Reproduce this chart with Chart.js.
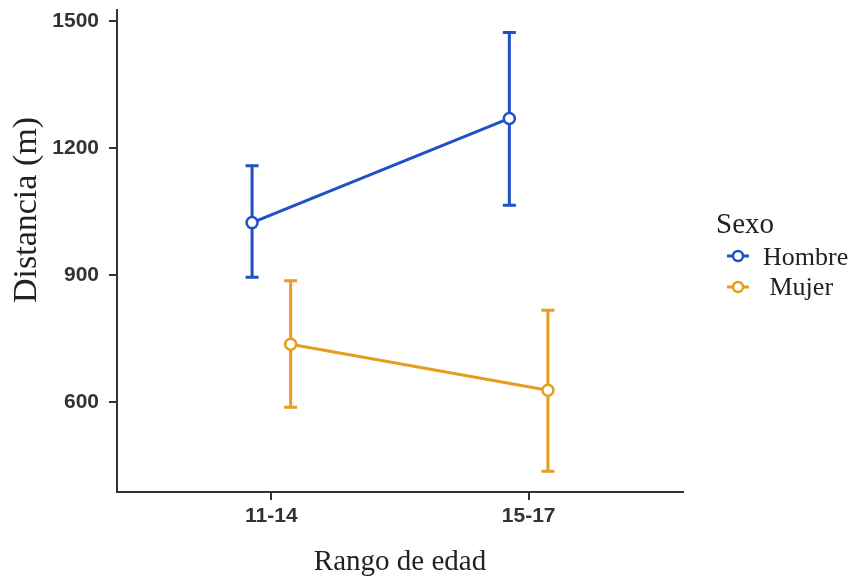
<!DOCTYPE html>
<html><head><meta charset="utf-8">
<script src="https://cdn.jsdelivr.net/npm/chart.js@4.4.1/dist/chart.umd.min.js"></script>
<style>html,body{margin:0;padding:0;background:#fff}#wrap{width:853px;height:582px;position:relative}</style>
</head><body><div id="wrap"><canvas id="c" width="853" height="582"></canvas></div>
<script>
// ---- data ----
const categories = ["11-14", "15-17"];
const seriesNames = ["Hombre", " Mujer"];
const hombreMean = [1024, 1270];
const hombreLow = [895, 1065];
const hombreHigh = [1158, 1473];
const mujerMean = [737, 628];
const mujerLow = [588, 437];
const mujerHigh = [887, 817];
const yTicks = [600, 900, 1200, 1500];
const legendTitle = "Sexo";
const xTitle = "Rango de edad";
const yTitle = "Distancia (m)";

// ---- styling ----
const colors = ["#1f50c6", "#e69c1f"];
const dodge = [-0.075, 0.075];
const axisColor = "#333333";
const serif = "'Liberation Serif', 'DejaVu Serif', serif";
const sans = "'Liberation Sans', Arial, sans-serif";

function buildPoints(mean, low, high, s) {
  return mean.map((v, i) => ({ x: i + 1 + dodge[s], y: v, lo: low[i], hi: high[i] }));
}

const datasets = [
  { label: seriesNames[0], data: buildPoints(hombreMean, hombreLow, hombreHigh, 0) },
  { label: seriesNames[1], data: buildPoints(mujerMean, mujerLow, mujerHigh, 1) }
].map((d, s) => Object.assign(d, {
  borderColor: colors[s],
  backgroundColor: "#ffffff",
  pointBackgroundColor: "#ffffff",
  pointBorderColor: colors[s],
  pointRadius: 5.5,
  pointBorderWidth: 2.5,
  pointHoverRadius: 5.5,
  borderWidth: 3,
  tension: 0,
  fill: false
}));

const errorBars = {
  id: 'errorBars',
  beforeDatasetsDraw(chart) {
    const ctx = chart.ctx;
    const y = chart.scales.y;
    chart.data.datasets.forEach((ds, s) => {
      const meta = chart.getDatasetMeta(s);
      meta.data.forEach((pt, i) => {
        const raw = ds.data[i];
        const yl = y.getPixelForValue(raw.lo);
        const yh = y.getPixelForValue(raw.hi);
        ctx.save();
        ctx.strokeStyle = colors[s];
        ctx.lineWidth = 3;
        ctx.beginPath();
        ctx.moveTo(pt.x, yl); ctx.lineTo(pt.x, yh);
        ctx.moveTo(pt.x - 6.5, yl); ctx.lineTo(pt.x + 6.5, yl);
        ctx.moveTo(pt.x - 6.5, yh); ctx.lineTo(pt.x + 6.5, yh);
        ctx.stroke();
        ctx.restore();
      });
    });
  }
};

const extras = {
  id: 'extras',
  afterDraw(chart) {
    const ctx = chart.ctx;
    ctx.save();
    // y title
    ctx.fillStyle = "#222";
    ctx.font = "34px " + serif;
    ctx.textAlign = "center";
    ctx.textBaseline = "middle";
    ctx.translate(27, 210);
    ctx.rotate(-Math.PI / 2);
    ctx.fillText(yTitle, 0, 0);
    ctx.restore();

    // legend
    ctx.save();
    ctx.fillStyle = "#222";
    ctx.textAlign = "left";
    ctx.textBaseline = "alphabetic";
    ctx.font = "29px " + serif;
    ctx.fillText(legendTitle, 716, 233);
    const rows = [{ y: 256, tx: 763, ty: 265 }, { y: 287, tx: 763, ty: 295 }];
    chart.data.datasets.forEach((ds, s) => {
      const r = rows[s];
      ctx.strokeStyle = colors[s];
      ctx.lineWidth = 3;
      ctx.beginPath();
      ctx.moveTo(727, r.y); ctx.lineTo(749, r.y);
      ctx.stroke();
      ctx.beginPath();
      ctx.fillStyle = "#fff";
      ctx.lineWidth = 2.5;
      ctx.arc(738, r.y, 5, 0, Math.PI * 2);
      ctx.fill(); ctx.stroke();
      ctx.fillStyle = "#222";
      ctx.font = "26px " + serif;
      ctx.fillText(ds.label, r.tx, r.ty);
    });
    ctx.restore();
  }
};

new Chart(document.getElementById('c'), {
  type: 'line',
  data: { datasets },
  plugins: [errorBars, extras],
  options: {
    responsive: false,
    animation: false,
    events: [],
    layout: { padding: { top: 10, right: 170, left: 0, bottom: 0 } },
    plugins: { legend: { display: false }, tooltip: { enabled: false } },
    scales: {
      x: {
        type: 'linear',
        min: 0.4, max: 2.6,
        afterBuildTicks(sc) { sc.ticks = categories.map((c, i) => ({ value: i + 1 })); },
        afterFit(sc) { sc.height = 90; sc.paddingLeft = 0; sc.paddingRight = 0; },
        ticks: {
          callback: (v) => categories[Math.round(v) - 1] || '',
          font: { family: sans, size: 21, weight: 'bold' },
          color: "#333",
          padding: 4,
          autoSkip: false,
          maxRotation: 0
        },
        grid: { drawOnChartArea: false, drawTicks: true, tickLength: 8, color: axisColor, lineWidth: 2 },
        border: { display: true, color: axisColor, width: 2 },
        title: {
          display: true, text: xTitle, color: "#222",
          font: { family: serif, size: 29, lineHeight: 1.2 },
          padding: { top: 0, bottom: 2 }
        }
      },
      y: {
        type: 'linear',
        min: 388, max: 1526,
        afterBuildTicks(sc) { sc.ticks = yTicks.map(v => ({ value: v })); },
        afterFit(sc) { sc.width = 117; sc.paddingTop = 0; sc.paddingBottom = 0; },
        ticks: {
          callback: (v) => String(v),
          font: { family: sans, size: 21, weight: 'bold' },
          color: "#333",
          padding: 10
        },
        grid: { drawOnChartArea: false, drawTicks: true, tickLength: 8, color: axisColor, lineWidth: 2 },
        border: { display: true, color: axisColor, width: 2 }
      }
    }
  }
});
</script>
</body></html>
